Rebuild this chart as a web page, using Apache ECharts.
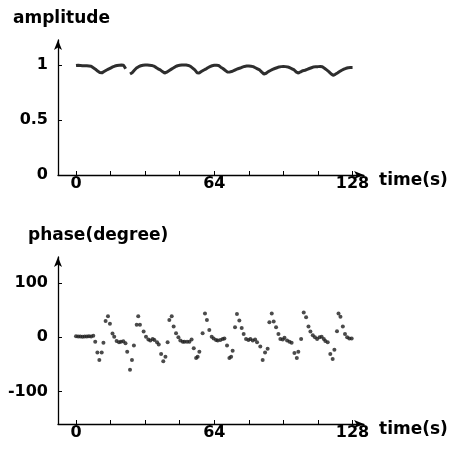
<!DOCTYPE html>
<html>
<head>
<meta charset="utf-8">
<script src="https://cdn.jsdelivr.net/npm/echarts@6/dist/echarts.min.js"></script>
<style>
html,body{margin:0;padding:0;background:#fff;}
#c{width:453px;height:449px;}
</style>
</head>
<body>
<div id="c"></div>
<script>
// ---- data ----
// amplitude sampled every second, t = 0..128 (null = gap in the trace)
const ampValues = [
  0.995,0.997,0.995,0.993,0.994,0.992,0.990,0.988,0.975,0.962,
  0.945,0.932,0.928,0.940,0.952,0.962,0.972,0.982,0.990,0.995,
  0.998,0.999,0.997,0.965,null,0.918,0.930,0.952,0.972,0.985,
  0.993,0.998,1.000,1.000,0.998,0.996,0.990,0.978,0.965,0.955,
  0.940,0.927,0.935,0.948,0.960,0.972,0.985,0.993,0.997,1.000,
  1.000,0.999,0.996,0.988,0.972,0.955,0.930,0.927,0.940,0.952,
  0.962,0.975,0.985,0.993,0.997,0.998,0.995,0.980,0.968,0.952,
  0.937,0.935,0.940,0.948,0.958,0.966,0.972,0.980,0.987,0.990,
  0.990,0.988,0.985,0.975,0.965,0.955,0.935,0.918,0.925,0.940,
  0.950,0.960,0.968,0.975,0.982,0.985,0.987,0.985,0.982,0.975,
  0.965,0.955,0.935,0.927,0.938,0.948,0.952,0.960,0.968,0.975,
  0.982,0.985,0.985,0.986,0.983,0.970,0.955,0.940,0.920,0.906,
  0.915,0.927,0.940,0.952,0.962,0.970,0.975,0.976,0.976
];
const phaseTimes = [
  0,1,2,3,4,5,6,7,8,
  8.9,9.9,10.8,11.9,12.7,13.7,14.8,15.7,16.9,17.7,18.8,19.9,20.8,21.9,22.9,
  23.7,25,25.9,26.8,28.1,28.8,29.6,31.3,32.4,33.5,34.4,35.5,36.3,37.5,38.3,39.4,40.4,41.4,42.4,
  43.2,44.3,45.2,46.3,47.4,48.3,49.4,50.2,51.4,52.5,53.5,54.5,55.6,56.3,57.1,
  58.6,59.7,60.6,61.7,62.8,63.7,64.8,65.6,66.8,67.9,68.7,69.9,71,71.8,72.5,
  73.6,74.5,75.6,76.7,77.6,78.7,79.8,80.7,81.8,82.9,83.8,85.3,86.4,87.5,88.7,
  89.5,90.6,91.5,92.6,93.7,94.6,95.7,96.5,97.7,98.8,99.8,101.1,102.2,102.9,104.2,
  105.4,106.5,107.6,108.5,109.6,110.6,111.6,112.7,113.7,114.7,115.4,116.5,117.7,118.8,119.6,
  120.8,121.5,122.4,123.5,124.5,125.5,126.5,127.6
];
const phaseValues = [
  2,1.5,1.5,1,1.5,1.5,2,1.5,3,
  -8,-28,-42,-28,-10,30,39,25,7,1,-7,-9,-8,-7.5,-11,
  -26.5,-60,-42,-15,23,39,23,10.5,1,-4,-6,-3,-5,-9,-13.5,-31,-44,-36,-9,
  32,39,20,7.5,0,-6,-8,-8,-8,-8,-4,-20,-38,-36,-26.5,
  7.5,44,32,13.5,1,-2,-5,-6,-5,-3,-2,-15,-38,-36,-25,
  18.5,43,31,17,6,-3,-5,-3,-6,-4,-9,-17,-42,-28,-21,
  28,44,29,18.5,6,-3,-4,-1,-6,-8,-10,-29,-38,-26.5,-3,
  46,37,20,10.5,4,0,-3,0,1,-3,-7,-9,-31,-40,-23,
  11,44,38,20,6,0,-2,-2
];
const xTickValues = [0,16,32,48,64,80,96,112,128];
const xLabelValues = [0,64,128];
const ampTicks = [0,0.5,1];
const phaseTicks = [-100,0,100];
const titles = ['amplitude','phase(degree)','time(s)'];

// ---- chart ----
const FONT = '"DejaVu Sans", sans-serif';
const lab = {fontFamily: FONT, fontWeight: 'bold', fontSize: 16, color: '#000'};
function xAx(g){
  return {
    gridIndex: g, type: 'value', min: -8.33, max: 133.3,
    axisLine: {show: true, onZero: false, symbol: ['none','arrow'], symbolSize: [6,10],
               lineStyle: {color: '#000', width: 1.3}},
    axisTick: {show: true, inside: true, length: 4, customValues: xTickValues,
               lineStyle: {color: '#000', width: 1}},
    axisLabel: Object.assign({customValues: xLabelValues, margin: 1}, lab),
    splitLine: {show: false}
  };
}
function yAx(g, min, max, ticks){
  return {
    gridIndex: g, type: 'value', min: min, max: max,
    axisLine: {show: true, onZero: false, symbol: ['none','arrow'], symbolSize: [6,10],
               lineStyle: {color: '#000', width: 1.3}},
    axisTick: {show: true, inside: true, length: 4, customValues: ticks,
               lineStyle: {color: '#000', width: 1}},
    axisLabel: Object.assign({customValues: ticks, margin: 10}, lab),
    splitLine: {show: false}
  };
}
const chart = echarts.init(document.getElementById('c'), null, {renderer: 'canvas'});
const titleFont = 'bold 17px "DejaVu Sans", sans-serif';
chart.setOption({
  animation: false,
  backgroundColor: '#fff',
  grid: [
    {left: 58, right: 89, top: 40, bottom: 274},
    {left: 58, right: 89, top: 257, bottom: 25}
  ],
  xAxis: [xAx(0), xAx(1)],
  yAxis: [yAx(0, 0, 1.227, ampTicks), yAx(1, -160, 148.2, phaseTicks)],
  graphic: [
    {type: 'text', left: 13, top: 10, style: {text: titles[0], font: titleFont, fill: '#000'}},
    {type: 'text', left: 28, top: 227, style: {text: titles[1], font: titleFont, fill: '#000'}},
    {type: 'text', left: 379, top: 172, style: {text: titles[2], font: titleFont, fill: '#000'}},
    {type: 'text', left: 379, top: 421, style: {text: titles[2], font: titleFont, fill: '#000'}}
  ],
  series: [
    {
      type: 'line', xAxisIndex: 0, yAxisIndex: 0,
      data: ampValues.map((v, i) => [i, v]),
      showSymbol: false, connectNulls: false,
      lineStyle: {color: '#2e2e2e', width: 3}
    },
    {
      type: 'scatter', xAxisIndex: 1, yAxisIndex: 1,
      data: phaseTimes.map((t, i) => [t, phaseValues[i]]),
      symbol: 'circle', symbolSize: 4,
      itemStyle: {color: '#1e1e1e'}
    }
  ]
});
</script>
</body>
</html>
